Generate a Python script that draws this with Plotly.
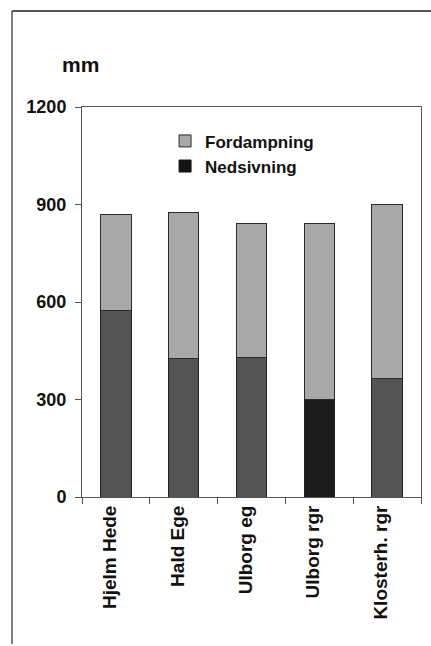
import plotly.graph_objects as go

# Water balance per site (mm)
sites = ["Hjelm Hede", "Hald Ege", "Ulborg eg", "Ulborg rgr", "Klosterh. rgr"]
nedsivning = [575, 425, 430, 300, 365]
fordampning = [295, 450, 413, 543, 535]
y_ticks = [0, 300, 600, 900, 1200]

W, H = 431, 646
L, R, T, B = 82, 10, 107, 149
FONT = "Liberation Sans, Arial, sans-serif"

ned_colors = ["#545454", "#545454", "#545454", "#1c1c1c", "#545454"]

fig = go.Figure()
# legend entry for the seepage series (black key)
fig.add_trace(go.Bar(
    x=[None], y=[None], name="Nedsivning", legendgroup="ned",
    marker=dict(color="#141414", line=dict(color="#141414", width=1)),
))
fig.add_trace(go.Bar(
    x=sites, y=nedsivning, name="Nedsivning", width=0.45,
    legendgroup="ned", showlegend=False,
    marker=dict(color=ned_colors, line=dict(color="#222222", width=1)),
))
fig.add_trace(go.Bar(
    x=sites, y=fordampning, name="Fordampning", width=0.45,
    marker=dict(color="#a8a8a8", line=dict(color="#2a2a2a", width=1)),
))

fig.update_layout(
    width=W, height=H,
    margin=dict(l=L, r=R, t=T, b=B),
    barmode="stack",
    paper_bgcolor="white", plot_bgcolor="white",
    font=dict(family=FONT, color="#111111"),
    showlegend=True,
    legend=dict(
        x=0.245, y=0.958, xanchor="left", yanchor="top",
        traceorder="reversed",
        font=dict(family=FONT, size=17, color="#111111", weight="bold"),
        bgcolor="rgba(0,0,0,0)", itemwidth=30, tracegroupgap=0,
    ),
    xaxis=dict(
        type="category", categoryorder="array", categoryarray=sites,
        tickangle=-90, tickson="boundaries", ticks="outside", ticklen=6,
        tickcolor="#555555", showline=True, linecolor="#555555", linewidth=1,
        mirror=True, showgrid=False, ticklabelshift=-6,
        tickfont=dict(family=FONT, size=19, color="#111111", weight="bold"),
    ),
    yaxis=dict(
        range=[0, 1200], tickvals=y_ticks, ticks="outside", ticklen=6,
        tickcolor="#555555", showline=True, linecolor="#555555", linewidth=1,
        mirror=True, showgrid=False, zeroline=False, ticklabelstandoff=5,
        tickfont=dict(family=FONT, size=18, color="#111111", weight="bold"),
    ),
)

pw, ph = W - L - R, H - T - B
def px_x(v):
    return (v - L) / pw
def px_y(v):
    return (H - B - v) / ph

# unit label
fig.add_annotation(
    text="mm", xref="paper", yref="paper",
    x=px_x(60), y=px_y(65),
    xanchor="left", yanchor="middle", showarrow=False,
    font=dict(family=FONT, size=21, color="#111111", weight="bold"),
)

# outer frame lines (top and left)
fig.add_shape(type="line", xref="paper", yref="paper",
              x0=px_x(12), x1=px_x(431), y0=px_y(11), y1=px_y(11),
              line=dict(color="#555555", width=2))
fig.add_shape(type="line", xref="paper", yref="paper",
              x0=px_x(12), x1=px_x(12), y0=px_y(11), y1=px_y(644),
              line=dict(color="#555555", width=1.5))

fig.write_html("out.html")
